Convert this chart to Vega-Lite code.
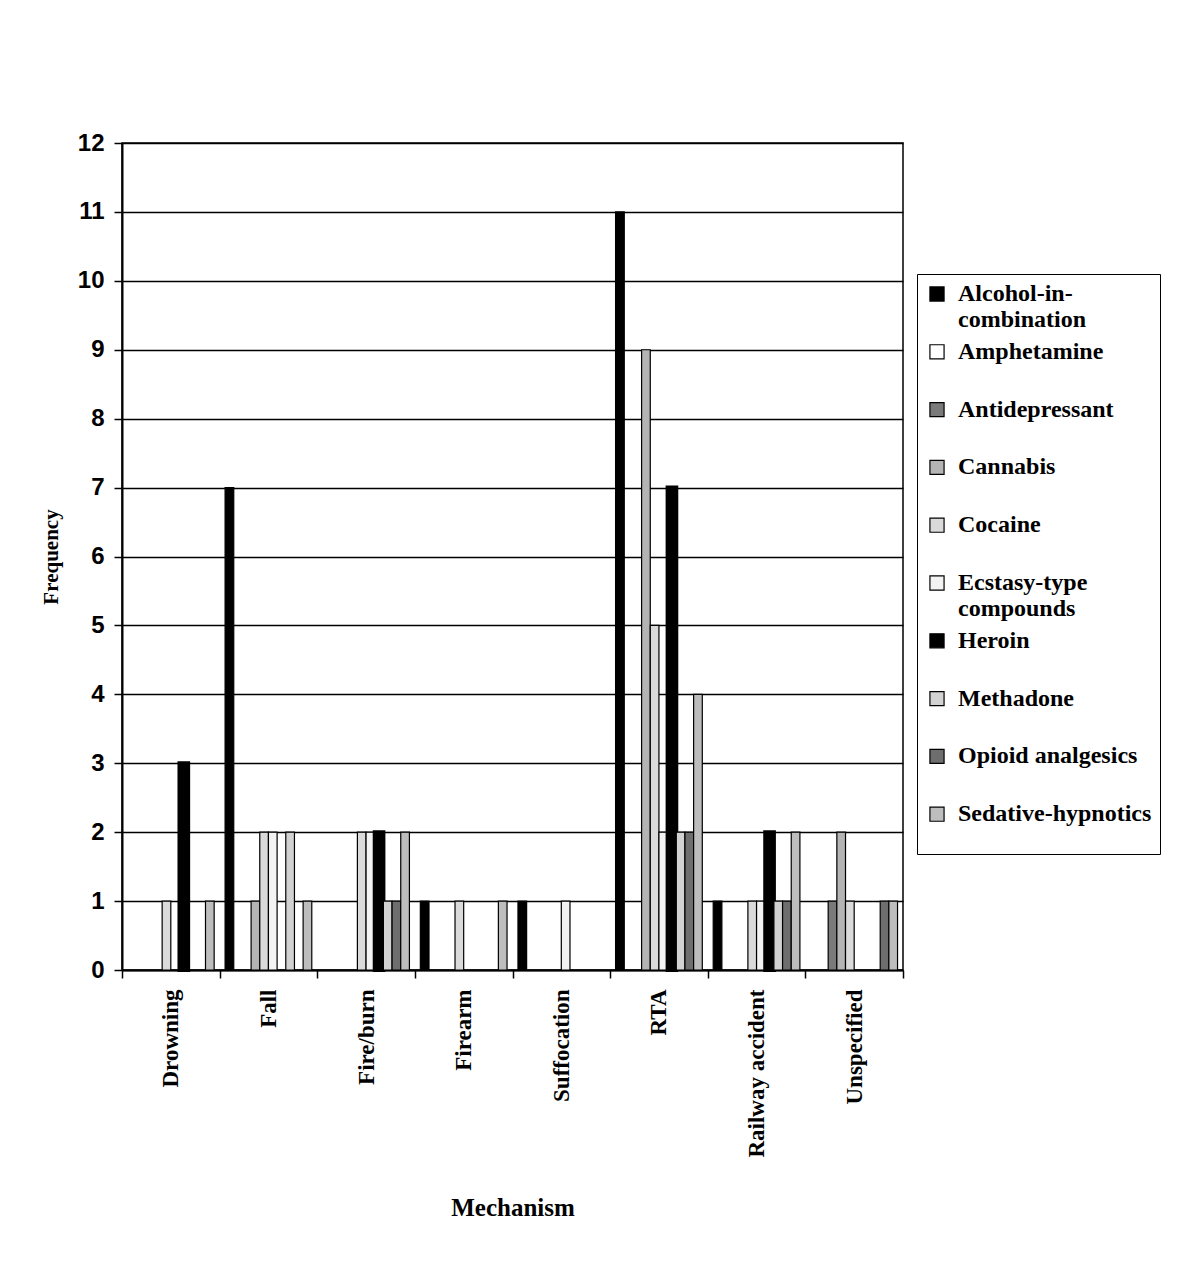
{
  "$schema": "https://vega.github.io/schema/vega-lite/v6.json",
  "autosize": "none",
  "width": 781,
  "height": 827,
  "padding": {"left": 122, "top": 143, "right": 297, "bottom": 309},
  "background": "white",
  "config": {
    "view": {"stroke": "black", "strokeWidth": 1.5},
    "font": "Liberation Serif"
  },
  "data": {
    "values": [
      {"mechanism": "Drowning", "drug": "Cocaine", "freq": 1},
      {"mechanism": "Drowning", "drug": "Heroin", "freq": 3},
      {"mechanism": "Drowning", "drug": "Sedative-hypnotics", "freq": 1},
      {"mechanism": "Fall", "drug": "Alcohol-in-combination", "freq": 7},
      {"mechanism": "Fall", "drug": "Cannabis", "freq": 1},
      {"mechanism": "Fall", "drug": "Cocaine", "freq": 2},
      {"mechanism": "Fall", "drug": "Ecstasy-type compounds", "freq": 2},
      {"mechanism": "Fall", "drug": "Methadone", "freq": 2},
      {"mechanism": "Fall", "drug": "Sedative-hypnotics", "freq": 1},
      {"mechanism": "Fire/burn", "drug": "Cocaine", "freq": 2},
      {"mechanism": "Fire/burn", "drug": "Ecstasy-type compounds", "freq": 2},
      {"mechanism": "Fire/burn", "drug": "Heroin", "freq": 2},
      {"mechanism": "Fire/burn", "drug": "Methadone", "freq": 1},
      {"mechanism": "Fire/burn", "drug": "Opioid analgesics", "freq": 1},
      {"mechanism": "Fire/burn", "drug": "Sedative-hypnotics", "freq": 2},
      {"mechanism": "Firearm", "drug": "Alcohol-in-combination", "freq": 1},
      {"mechanism": "Firearm", "drug": "Cocaine", "freq": 1},
      {"mechanism": "Firearm", "drug": "Sedative-hypnotics", "freq": 1},
      {"mechanism": "Suffocation", "drug": "Alcohol-in-combination", "freq": 1},
      {"mechanism": "Suffocation", "drug": "Ecstasy-type compounds", "freq": 1},
      {"mechanism": "RTA", "drug": "Alcohol-in-combination", "freq": 11},
      {"mechanism": "RTA", "drug": "Cannabis", "freq": 9},
      {"mechanism": "RTA", "drug": "Cocaine", "freq": 5},
      {"mechanism": "RTA", "drug": "Ecstasy-type compounds", "freq": 2},
      {"mechanism": "RTA", "drug": "Heroin", "freq": 7},
      {"mechanism": "RTA", "drug": "Methadone", "freq": 2},
      {"mechanism": "RTA", "drug": "Opioid analgesics", "freq": 2},
      {"mechanism": "RTA", "drug": "Sedative-hypnotics", "freq": 4},
      {"mechanism": "Railway accident", "drug": "Alcohol-in-combination", "freq": 1},
      {"mechanism": "Railway accident", "drug": "Cocaine", "freq": 1},
      {"mechanism": "Railway accident", "drug": "Ecstasy-type compounds", "freq": 1},
      {"mechanism": "Railway accident", "drug": "Heroin", "freq": 2},
      {"mechanism": "Railway accident", "drug": "Methadone", "freq": 1},
      {"mechanism": "Railway accident", "drug": "Opioid analgesics", "freq": 1},
      {"mechanism": "Railway accident", "drug": "Sedative-hypnotics", "freq": 2},
      {"mechanism": "Unspecified", "drug": "Antidepressant", "freq": 1},
      {"mechanism": "Unspecified", "drug": "Cannabis", "freq": 2},
      {"mechanism": "Unspecified", "drug": "Cocaine", "freq": 1},
      {"mechanism": "Unspecified", "drug": "Opioid analgesics", "freq": 1},
      {"mechanism": "Unspecified", "drug": "Sedative-hypnotics", "freq": 1}
    ]
  },
  "mark": {"type": "bar", "stroke": "black", "strokeWidth": 1.2},
  "encoding": {
    "x": {
      "field": "mechanism",
      "type": "nominal",
      "sort": ["Drowning", "Fall", "Fire/burn", "Firearm", "Suffocation", "RTA", "Railway accident", "Unspecified"],
      "scale": {"paddingInner": 0, "paddingOuter": 0},
      "axis": {
        "title": "Mechanism",
        "titleFont": "Liberation Serif",
        "titleFontSize": 25,
        "titleFontWeight": "bold",
        "titleColor": "black",
        "titlePadding": 38,
        "labelAngle": -90,
        "labelFont": "Liberation Serif",
        "labelFontSize": 23,
        "labelFontWeight": "bold",
        "labelColor": "black",
        "labelPadding": 11,
        "tickBand": "extent",
        "tickColor": "black",
        "tickWidth": 1.5,
        "tickSize": 8,
        "domainColor": "black",
        "domainWidth": 2
      }
    },
    "xOffset": {
      "field": "drug",
      "type": "nominal",
      "scale": {
        "domain": ["Alcohol-in-combination", "Amphetamine", "Antidepressant", "Cannabis", "Cocaine", "Ecstasy-type compounds", "Heroin", "Methadone", "Opioid analgesics", "Sedative-hypnotics"],
        "paddingInner": 0,
        "paddingOuter": 0.63
      }
    },
    "y": {
      "field": "freq",
      "type": "quantitative",
      "scale": {"domain": [0, 12], "nice": false},
      "axis": {
        "title": "Frequency",
        "titleFont": "Liberation Serif",
        "titleFontSize": 21,
        "titleFontWeight": "bold",
        "titleColor": "black",
        "titlePadding": 16,
        "values": [0, 1, 2, 3, 4, 5, 6, 7, 8, 9, 10, 11, 12],
        "labelFont": "Liberation Sans",
        "labelFontSize": 24,
        "labelFontWeight": "bold",
        "labelColor": "black",
        "labelPadding": 10,
        "tickColor": "black",
        "tickWidth": 1.5,
        "tickSize": 8,
        "domainColor": "black",
        "domainWidth": 2,
        "grid": true,
        "gridColor": "black",
        "gridWidth": 1.5,
        "gridOpacity": 1
      }
    },
    "fill": {
      "field": "drug",
      "type": "nominal",
      "scale": {
        "domain": ["Alcohol-in-combination", "Amphetamine", "Antidepressant", "Cannabis", "Cocaine", "Ecstasy-type compounds", "Heroin", "Methadone", "Opioid analgesics", "Sedative-hypnotics"],
        "range": ["#000000", "#ffffff", "#7a7a7a", "#b4b4b4", "#dadada", "#f3f3f3", "#000000", "#d2d2d2", "#6e6e6e", "#bdbdbd"]
      },
      "legend": {
        "title": " ",
        "titleOrient": "bottom",
        "titleFontSize": 14,
        "titlePadding": 6,
        "orient": "none",
        "legendX": 795,
        "legendY": 131,
        "direction": "vertical",
        "strokeColor": "black",
        "padding": 8,
        "symbolType": "square",
        "symbolSize": 200,
        "symbolStrokeColor": "black",
        "symbolStrokeWidth": 1.2,
        "labelFont": "Liberation Serif",
        "labelFontSize": 24,
        "labelFontWeight": "bold",
        "labelColor": "black",
        "labelOffset": 9,
        "labelLimit": 300,
        "clipHeight": 24,
        "gridAlign": "all",
        "rowPadding": 7.8,
        "labelExpr": "datum.label == 'Alcohol-in-combination' ? ['Alcohol-in-', 'combination'] : datum.label == 'Ecstasy-type compounds' ? ['Ecstasy-type', 'compounds'] : datum.label"
      }
    },
    "strokeWidth": {
      "condition": {"test": "datum.drug == 'Heroin'", "value": 4},
      "value": 1.2
    }
  }
}
